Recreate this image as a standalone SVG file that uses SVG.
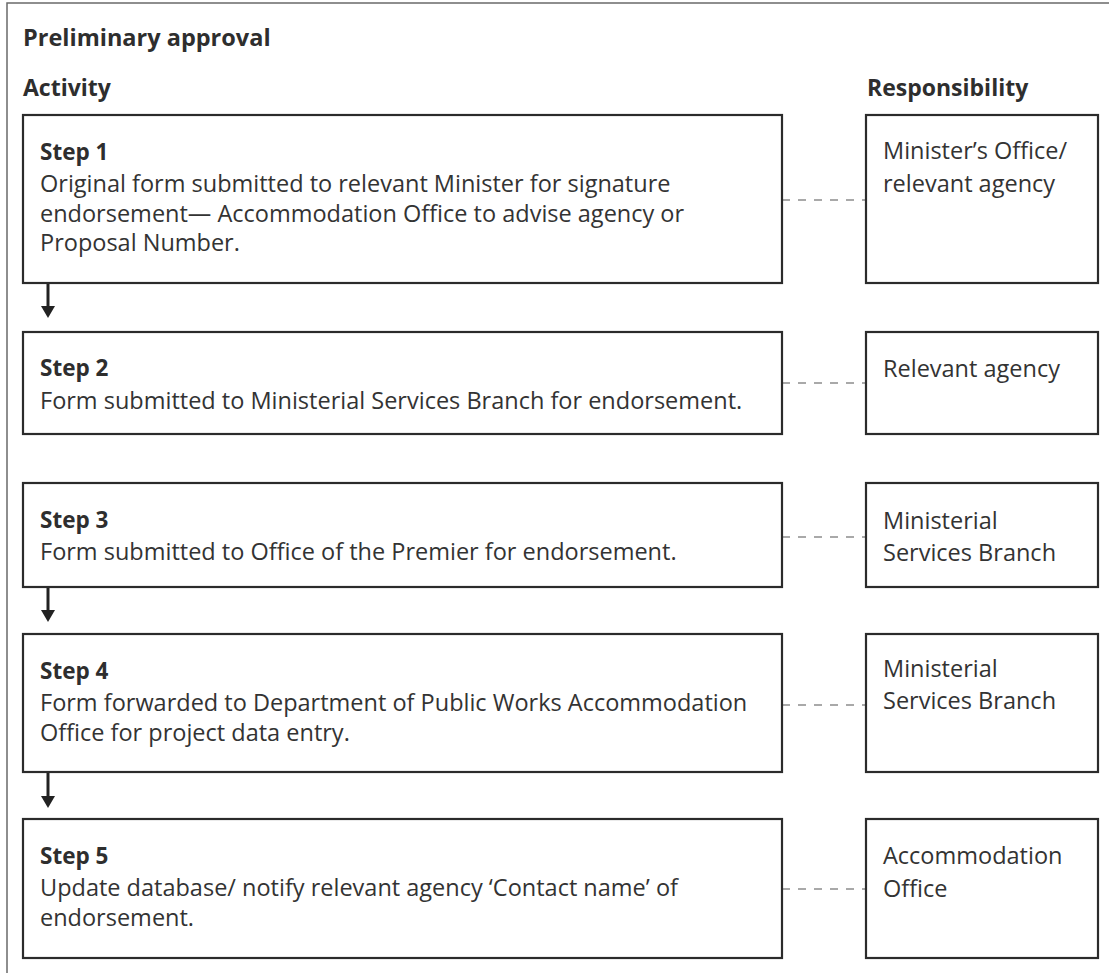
<svg xmlns="http://www.w3.org/2000/svg" width="1109" height="973" viewBox="0 0 1109 973">
<style>
  .frame { fill: none; stroke: #6a6a6a; stroke-width: 1.5; }
  .box { fill: #ffffff; stroke: #2b2b2b; stroke-width: 2.2; }
  .h1 { font-family: "Open Sans", Lato, sans-serif; font-weight: bold; font-size: 23.5px; fill: #2e2e2e; }
  .h2 { font-family: "Open Sans", Lato, sans-serif; font-weight: bold; font-size: 23px; fill: #2e2e2e; }
  .title { font-family: "Open Sans", Lato, sans-serif; font-weight: bold; font-size: 22.5px; fill: #2e2e2e; }
  .body { font-family: "Open Sans", Lato, sans-serif; font-size: 23.5px; fill: #333333; }
  .dash { stroke: #a9a9a9; stroke-width: 2; stroke-dasharray: 8 8; fill: none; }
  .arrow { stroke: #222222; stroke-width: 3; fill: none; }
  .head { fill: #222222; }
</style>
<rect width="1109" height="973" fill="#ffffff"/>
<rect class="frame" x="7" y="3" width="1120" height="990"/>
<text class="h1" x="23" y="46">Preliminary approval</text>
<text class="h2" x="23" y="96">Activity</text>
<text class="h2" x="867" y="96">Responsibility</text>

<g id="connectors">
  <line class="dash" x1="782" y1="200" x2="866" y2="200"/>
  <line class="dash" x1="782" y1="383" x2="866" y2="383"/>
  <line class="dash" x1="782" y1="537" x2="866" y2="537"/>
  <line class="dash" x1="782" y1="705" x2="866" y2="705"/>
  <line class="dash" x1="782" y1="889" x2="866" y2="889"/>
  <line class="arrow" x1="48" y1="284" x2="48" y2="308"/>
  <path class="head" d="M41,306 L55,306 L48,318 Z"/>
  <line class="arrow" x1="48" y1="588" x2="48" y2="612"/>
  <path class="head" d="M41,610 L55,610 L48,622 Z"/>
  <line class="arrow" x1="48" y1="773" x2="48" y2="798"/>
  <path class="head" d="M41,796 L55,796 L48,808 Z"/>
</g>

<g id="step1">
  <rect class="box" x="23" y="115" width="759" height="168"/>
  <text class="title" x="40" y="160">Step 1</text>
  <text class="body" x="40" y="192">Original form submitted to relevant Minister for signature</text>
  <text class="body" x="40" y="222">endorsement— Accommodation Office to advise agency or</text>
  <text class="body" x="40" y="251">Proposal Number.</text>
</g>
<g id="resp1">
  <rect class="box" x="866" y="115" width="232" height="168"/>
  <text class="body" x="883" y="159">Minister’s Office/</text>
  <text class="body" x="883" y="192">relevant agency</text>
</g>

<g id="step2">
  <rect class="box" x="23" y="332" width="759" height="102"/>
  <text class="title" x="40" y="376">Step 2</text>
  <text class="body" x="40" y="409">Form submitted to Ministerial Services Branch for endorsement.</text>
</g>
<g id="resp2">
  <rect class="box" x="866" y="332" width="232" height="102"/>
  <text class="body" x="883" y="377">Relevant agency</text>
</g>

<g id="step3">
  <rect class="box" x="23" y="483" width="759" height="104"/>
  <text class="title" x="40" y="528">Step 3</text>
  <text class="body" x="40" y="560">Form submitted to Office of the Premier for endorsement.</text>
</g>
<g id="resp3">
  <rect class="box" x="866" y="483" width="232" height="104"/>
  <text class="body" x="883" y="529">Ministerial</text>
  <text class="body" x="883" y="561">Services Branch</text>
</g>

<g id="step4">
  <rect class="box" x="23" y="634" width="759" height="138"/>
  <text class="title" x="40" y="679">Step 4</text>
  <text class="body" x="40" y="711">Form forwarded to Department of Public Works Accommodation</text>
  <text class="body" x="40" y="741">Office for project data entry.</text>
</g>
<g id="resp4">
  <rect class="box" x="866" y="634" width="232" height="138"/>
  <text class="body" x="883" y="677">Ministerial</text>
  <text class="body" x="883" y="709">Services Branch</text>
</g>

<g id="step5">
  <rect class="box" x="23" y="819" width="759" height="139"/>
  <text class="title" x="40" y="864">Step 5</text>
  <text class="body" x="40" y="896">Update database/ notify relevant agency ‘Contact name’ of</text>
  <text class="body" x="40" y="926">endorsement.</text>
</g>
<g id="resp5">
  <rect class="box" x="866" y="819" width="232" height="139"/>
  <text class="body" x="883" y="864">Accommodation</text>
  <text class="body" x="883" y="897">Office</text>
</g>
</svg>
